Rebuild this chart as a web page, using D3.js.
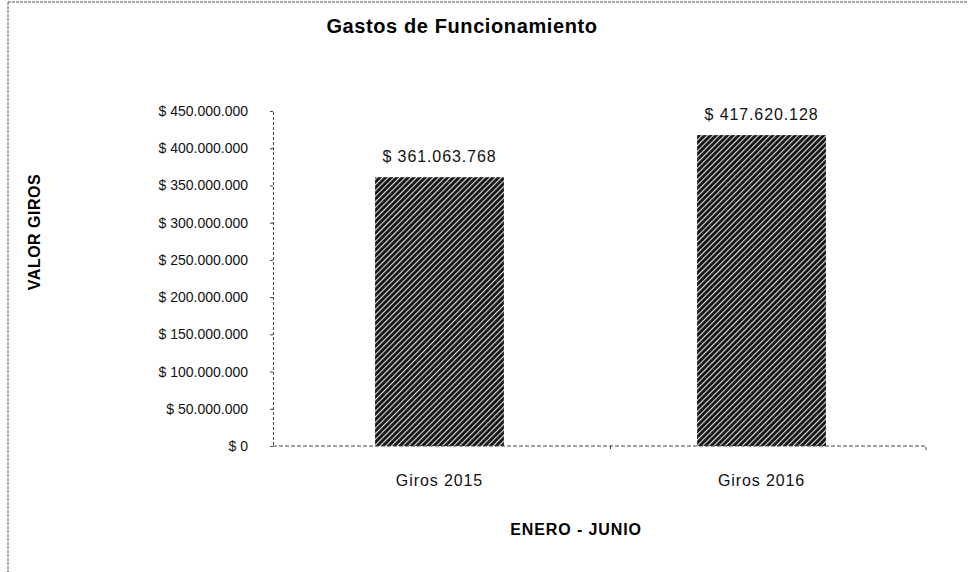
<!DOCTYPE html>
<html>
<head>
<meta charset="utf-8">
<script src="https://cdn.jsdelivr.net/npm/d3@7"></script>
<style>
  body { margin: 0; background: #fff; }
  text { font-family: "Liberation Sans", Arial, sans-serif; }
</style>
</head>
<body>
<div id="chart"></div>
<script>
const WIDTH = 968;
const HEIGHT = 572;

const categories = ['Giros 2015', 'Giros 2016'];
const values = [361063768, 417620128];
const yTicks = [0, 50000000, 100000000, 150000000, 200000000, 250000000, 300000000, 350000000, 400000000, 450000000];

const margin = {top: 111, right: 40, bottom: 126, left: 273};

const locale = d3.formatLocale({decimal: ",", thousands: ".", grouping: [3], currency: ["$ ", ""]});
const money = locale.format("$,.0f");

var svg = d3.select("#chart").append("svg")
    .attr("width", WIDTH)
    .attr("height", HEIGHT);

// hatch pattern for the bars
var defs = svg.append("defs");
var pat = defs.append("pattern")
    .attr("id", "hatch")
    .attr("patternUnits", "userSpaceOnUse")
    .attr("width", 4)
    .attr("height", 4)
    .attr("patternTransform", "rotate(45)");
pat.append("rect").attr("width", 4).attr("height", 4).attr("fill", "#141414");
pat.append("rect").attr("x", 0).attr("width", 1.1).attr("height", 4).attr("fill", "#e0e0e0");

// outer dashed frame (top + left only visible)
svg.append("line")
    .attr("x1", 8).attr("x2", WIDTH).attr("y1", 2).attr("y2", 2)
    .attr("stroke", "#555").attr("stroke-dasharray", "3,1");
svg.append("line")
    .attr("x1", 8).attr("x2", 8).attr("y1", 2).attr("y2", HEIGHT)
    .attr("stroke", "#555").attr("stroke-dasharray", "3,1");

var plotW = WIDTH - margin.left - margin.right;
var plotH = HEIGHT - margin.top - margin.bottom;

var g = svg.append("g").attr("transform", `translate(${margin.left},${margin.top})`);

var xScale = d3.scaleBand()
    .domain(categories)
    .range([0, 655])
    .paddingInner(0.6)
    .paddingOuter(0.317);

var yScale = d3.scaleLinear()
    .domain([0, 450000000])
    .range([plotH, 0]);

// bars
g.selectAll("rect.bar")
    .data(values)
    .enter()
    .append("rect")
    .attr("class", "bar")
    .attr("x", (d, i) => xScale(categories[i]))
    .attr("y", d => yScale(d))
    .attr("width", xScale.bandwidth())
    .attr("height", d => plotH - yScale(d))
    .attr("fill", "url(#hatch)");

// y axis
var yAxis = g.append("g")
    .call(d3.axisLeft(yScale).tickValues(yTicks).tickSize(3).tickPadding(22).tickFormat(money));
yAxis.select(".domain").attr("stroke", "#444").attr("stroke-dasharray", "3,2");
yAxis.selectAll(".tick line").attr("stroke", "#444");
yAxis.selectAll("text").attr("font-size", "14px").attr("fill", "#111");

// x axis
var xAxis = g.append("g")
    .attr("transform", `translate(0,${plotH})`)
    .call(d3.axisBottom(xScale).tickSize(0).tickPadding(29));
xAxis.select(".domain").attr("stroke", "#444").attr("stroke-dasharray", "4,2")
    .attr("d", `M0,0H${plotW - 2}V4`);
xAxis.selectAll("text").attr("font-size", "16px").attr("letter-spacing", "0.9px").attr("fill", "#111");
g.append("line")
    .attr("x1", plotW / 2 + 10).attr("x2", plotW / 2 + 10)
    .attr("y1", plotH).attr("y2", plotH + 3)
    .attr("stroke", "#444");

// value labels
g.selectAll("text.val")
    .data(values)
    .enter()
    .append("text")
    .attr("class", "val")
    .attr("x", (d, i) => xScale(categories[i]) + xScale.bandwidth() / 2)
    .attr("y", d => yScale(d) - 15)
    .attr("text-anchor", "middle")
    .attr("font-size", "16px")
    .attr("letter-spacing", "0.9px")
    .attr("fill", "#111")
    .text(d => money(d));

// title
svg.append("text")
    .attr("x", 462).attr("y", 33)
    .attr("text-anchor", "middle")
    .attr("font-size", "20px")
    .attr("letter-spacing", "0.6px")
    .attr("font-weight", "bold")
    .text("Gastos de Funcionamiento");

// axis titles
svg.append("text")
    .attr("x", 576).attr("y", 535)
    .attr("text-anchor", "middle")
    .attr("font-size", "16px")
    .attr("letter-spacing", "0.9px")
    .attr("font-weight", "bold")
    .text("ENERO - JUNIO");

svg.append("text")
    .attr("transform", "translate(40,232) rotate(-90)")
    .attr("text-anchor", "middle")
    .attr("font-size", "16px")
    .attr("letter-spacing", "0.5px")
    .attr("font-weight", "bold")
    .text("VALOR GIROS");
</script>
</body>
</html>
